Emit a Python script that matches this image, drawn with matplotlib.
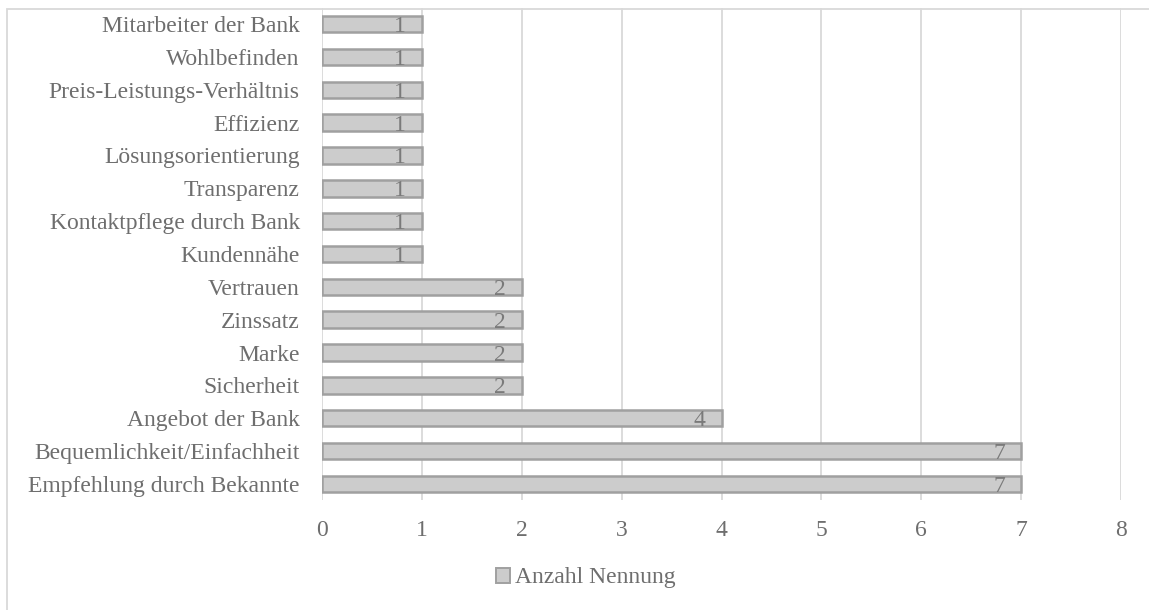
import matplotlib
matplotlib.use("Agg")
import matplotlib.pyplot as plt
from matplotlib.patches import Rectangle, Patch

plt.rcParams.update({
    "font.family": ["Liberation Serif", "DejaVu Serif"],
    "font.size": 17,
})

# categories listed bottom -> top
categories = [
    "Empfehlung durch Bekannte",
    "Bequemlichkeit/Einfachheit",
    "Angebot der Bank",
    "Sicherheit",
    "Marke",
    "Zinssatz",
    "Vertrauen",
    "Kundennähe",
    "Kontaktpflege durch Bank",
    "Transparenz",
    "Lösungsorientierung",
    "Effizienz",
    "Preis-Leistungs-Verhältnis",
    "Wohlbefinden",
    "Mitarbeiter der Bank",
]
counts = [7, 7, 4, 2, 2, 2, 2, 1, 1, 1, 1, 1, 1, 1, 1]
xticks = [0, 1, 2, 3, 4, 5, 6, 7, 8]

TEXT = "#6e6e6e"
VALUE = "#7a7a7a"
BAR = "#cccccc"
EDGE = "#a0a0a0"
GRID = "#d9d9d9"

W, H = 1149, 610
fig = plt.figure(figsize=(W / 100, H / 100), dpi=100)
ax = fig.add_axes([322 / W, 1 - 500.4 / H, (1121 - 322) / W, (500.4 - 7.6) / H])

ypos = list(range(len(categories)))
ax.barh(ypos, counts, height=0.5, color=BAR, edgecolor=EDGE,
        linewidth=1.8, zorder=3)

# value labels sit just inside the bar end
for y, v in zip(ypos, counts):
    ax.annotate(str(v), xy=(v, y), xytext=(-11.5, 0),
                textcoords="offset points", ha="right", va="center_baseline",
                color=VALUE, fontsize=17, zorder=4)

ax.set_xlim(0, 8)
ax.set_ylim(-0.5, len(categories) - 0.5)
ax.set_xticks(xticks)
ax.set_yticks(ypos)
ax.set_yticklabels(categories)
ax.tick_params(axis="both", length=0, colors=TEXT, labelsize=17)
ax.tick_params(axis="x", pad=14)
ax.tick_params(axis="y", pad=16)
ax.xaxis.grid(True, color=GRID, linewidth=1.3, zorder=0)
ax.set_axisbelow(True)
for sp in ax.spines.values():
    sp.set_visible(False)

fig.legend(handles=[Patch(facecolor=BAR, edgecolor=EDGE, linewidth=1.4,
                          label="Anzahl Nennung")],
           loc="center", bbox_to_anchor=(586 / W, 1 - 578 / H),
           frameon=False, handlelength=0.6, handleheight=0.6,
           handletextpad=0.2, fontsize=17, labelcolor=TEXT)

# outer chart frame
fig.patches.append(Rectangle((7 / W, -0.1), 1.2, 1.1 - 9 / H,
                             transform=fig.transFigure, fill=False,
                             edgecolor=GRID, linewidth=1.3))

fig.savefig("out.png", dpi=100)
